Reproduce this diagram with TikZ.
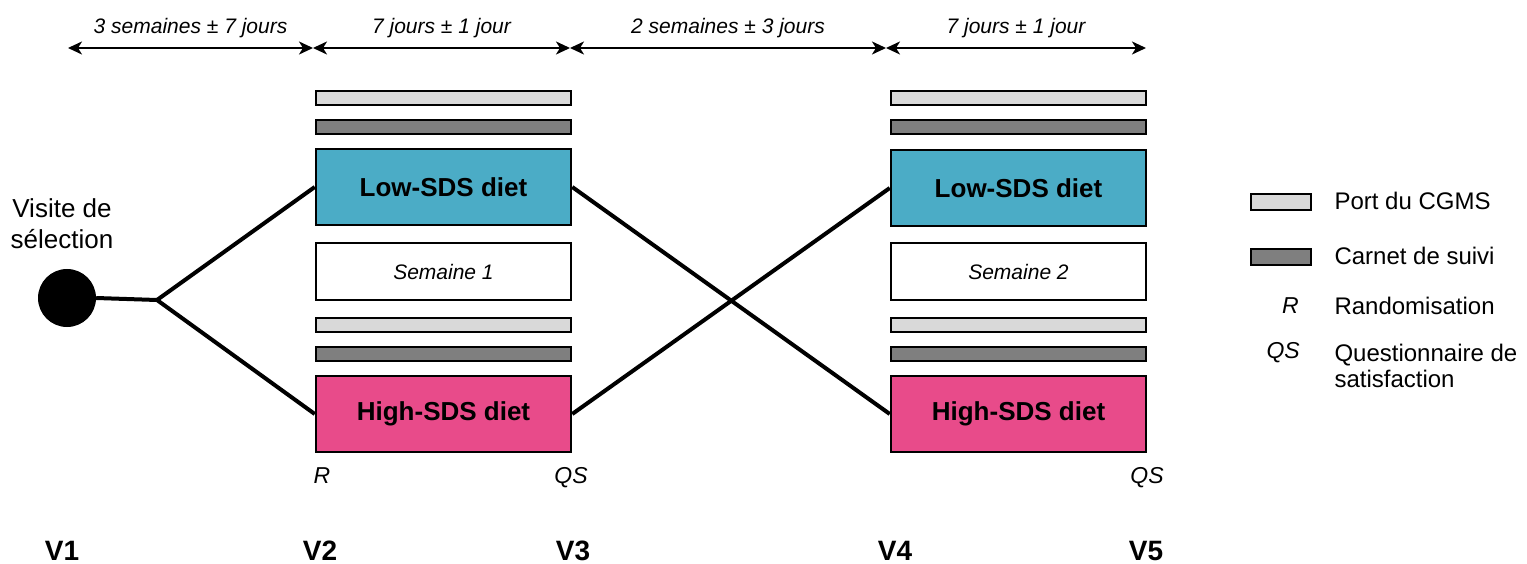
\documentclass[tikz,border=0pt]{standalone}
\usepackage{fontspec}
\setmainfont{Liberation Sans}
\usetikzlibrary{arrows.meta}
\definecolor{lowsds}{HTML}{4BACC6}
\definecolor{highsds}{HTML}{E84B8A}
\definecolor{cgms}{HTML}{D9D9D9}
\definecolor{carnet}{HTML}{7F7F7F}
\tikzset{
  diet/.style={draw, line width=2.5, minimum width=255, minimum height=76, inner sep=0,
    font=\fontsize{26}{30}\selectfont\bfseries},
  weekbox/.style={draw, line width=1.5, fill=white, minimum width=255, minimum height=57,
    inner sep=0, font=\fontsize{21}{24}\selectfont\itshape},
  bar/.style={draw, line width=2, minimum width=255, minimum height=14, inner sep=0},
  legbar/.style={draw, line width=2, minimum width=60, minimum height=16, inner sep=0},
  timeline/.style={line width=2, {Stealth[length=14, width=13, inset=4]}-{Stealth[length=14, width=13, inset=4]}},
  duree/.style={above=9, inner sep=0, font=\fontsize{21}{24}\selectfont\itshape},
  link/.style={line width=4},
  visit/.style={font=\fontsize{28}{32}\selectfont\bfseries},
  sigle/.style={font=\fontsize{23}{26}\selectfont\itshape},
  legtext/.style={anchor=west, align=left, font=\fontsize{24}{26}\selectfont},
}
\begin{document}
\begin{tikzpicture}[x=1pt, y=-1pt]
  \useasboundingbox (0,0) rectangle (1527,564);

  % time line
  \coordinate (t1) at (68,48);
  \coordinate (t2) at (313,48);
  \coordinate (t3) at (570,48);
  \coordinate (t4) at (886,48);
  \coordinate (t5) at (1146,48);
  \draw[timeline] (t1) -- node[duree] {3 semaines ± 7 jours} (t2);
  \draw[timeline] (t2) -- node[duree] {7 jours ± 1 jour} (t3);
  \draw[timeline] (t3) -- node[duree] {2 semaines ± 3 jours} (t4);
  \draw[timeline] (t4) -- node[duree] {7 jours ± 1 jour} (t5);

  % period 1
  \node[bar, fill=cgms] (cgms1a) at (443.5,98) {};
  \node[bar, fill=carnet] (carnet1a) at (443.5,127) {};
  \node[diet, fill=lowsds] (low1) at (443.5,187) {Low-SDS diet};
  \node[weekbox] (sem1) at (443.5,271.5) {Semaine 1};
  \node[bar, fill=cgms] (cgms1b) at (443.5,325) {};
  \node[bar, fill=carnet] (carnet1b) at (443.5,353.5) {};
  \node[diet, fill=highsds] (high1) at (443.5,414) {High-SDS diet};

  % period 2
  \node[bar, fill=cgms] (cgms2a) at (1018.5,98) {};
  \node[bar, fill=carnet] (carnet2a) at (1018.5,127) {};
  \node[diet, fill=lowsds] (low2) at (1018.5,188) {Low-SDS diet};
  \node[weekbox] (sem2) at (1018.5,271.5) {Semaine 2};
  \node[bar, fill=cgms] (cgms2b) at (1018.5,325) {};
  \node[bar, fill=carnet] (carnet2b) at (1018.5,353.5) {};
  \node[diet, fill=highsds] (high2) at (1018.5,414) {High-SDS diet};

  % selection and randomisation
  \node[align=center, font=\fontsize{26}{31}\selectfont] (selection) at (62,224) {Visite de\\sélection};
  \node[circle, fill=black, minimum size=58, inner sep=0] (dot) at (67,298) {};
  \coordinate (branch) at (157,300);
  \draw[link] (dot.east) -- (branch);
  \draw[link] (branch) -- (low1.west);
  \draw[link] (branch) -- (high1.west);
  \draw[link] (low1.east) -- (high2.west);
  \draw[link] (high1.east) -- (low2.west);

  \node[sigle, anchor=base] (r1) at (322,483) {R};
  \node[sigle, anchor=base] (qs1) at (571,483) {QS};
  \node[sigle, anchor=base] (qs2) at (1147,483) {QS};

  % visits
  \node[visit] (v1) at (62,551) {V1};
  \node[visit] (v2) at (320,551) {V2};
  \node[visit] (v3) at (573,551) {V3};
  \node[visit] (v4) at (895,551) {V4};
  \node[visit] (v5) at (1146,551) {V5};

  % legend
  \node[legbar, fill=cgms] (legcgms) at (1281,202.5) {};
  \node[legtext] (legcgmstxt) at (1331,201) {Port du CGMS};
  \node[legbar, fill=carnet] (legcarnet) at (1281,257) {};
  \node[legtext] (legcarnettxt) at (1331,256) {Carnet de suivi};
  \node[sigle, anchor=east, inner sep=0] (legr) at (1299,306) {R};
  \node[legtext] (legrtxt) at (1331,306) {Randomisation};
  \node[sigle, anchor=east, inner sep=0] (legqs) at (1300,353) {QS};
  \node[legtext] (legqstxt) at (1331,366) {Questionnaire de\\satisfaction};
\end{tikzpicture}
\end{document}
